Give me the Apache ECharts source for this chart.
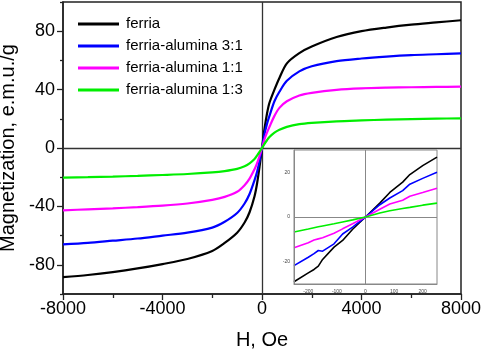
<!DOCTYPE html>
<html>
<head>
<meta charset="utf-8">
<script src="https://cdn.jsdelivr.net/npm/echarts@6/dist/echarts.min.js"></script>
<style>
  html, body { margin: 0; padding: 0; background: #fff; }
  #chart { width: 482px; height: 353px; }
</style>
</head>
<body>
<div id="chart"></div>
<script>
// main loop, field H in Oe
const H = [-8000, -7000, -6000, -5000, -4000, -3000, -2000, -1500, -1000, -700, -500, -300, -200, -100,
  0, 100, 200, 300, 500, 700, 1000, 1500, 2000, 3000, 4000, 5000, 6000, 7000, 8000];
const ferria = [-88.5, -87, -85, -82.5, -79.5, -76, -70.5, -65, -58, -51, -44, -33, -24.5, -13,
  0, 13, 23.5, 31, 40, 48, 58, 65, 69.5, 76, 80, 82.5, 84.5, 86, 87.5];
const fa31 = [-66, -65, -63.5, -62, -60, -58, -54.5, -50.5, -44.5, -38, -31.5, -22, -16.5, -9,
  0, 9.5, 16.5, 22, 32, 38.5, 46, 52.5, 56, 59.5, 61.3, 62.6, 63.6, 64.2, 64.8];
const fa11 = [-42.7, -42, -41.3, -40.5, -39.5, -38, -35.5, -33.5, -30, -25.5, -21, -14.5, -10.5, -5.5,
  0, 6, 10.5, 14.5, 22, 27.5, 32, 36, 37.8, 39.8, 40.8, 41.3, 41.6, 41.8, 42];
const fa13 = [-20.3, -20, -19.6, -19.1, -18.5, -17.8, -16.7, -15.8, -14.3, -12.5, -10.5, -7.5, -5.2, -2.7,
  0, 2.8, 5.3, 7.5, 10.5, 12.5, 14.5, 16.3, 17.2, 18.3, 18.9, 19.4, 19.8, 20.1, 20.3];

// inset, low field
const insetH = [-250, -200, -180, -165, -150, -110, -80, -45, 0, 50, 85, 130, 155, 200, 250];
const insetFerria = [-29, -25, -23.5, -22, -19, -13.5, -10.5, -5.5, 0, 6.2, 11, 15.6, 19, 23, 26.8];
const insetFa31 = [-21.8, -18, -16.4, -15, -15.3, -12, -7.6, -4.5, 0, 5.5, 8.5, 11.8, 14.7, 17.3, 20];
const insetFa11 = [-13.8, -11.5, -10.3, -9.8, -9.3, -7.3, -5.3, -3, 0, 3.5, 5.8, 7.5, 9.3, 11, 12.9];
const insetFa13 = [-6.7, -5.4, -4.8, -4.4, -4, -3, -2.2, -1.3, 0, 1.8, 2.8, 3.8, 4.3, 5.3, 6.2];

const names = ['ferria', 'ferria-alumina 3:1', 'ferria-alumina 1:1', 'ferria-alumina 1:3'];
const colors = ['#000000', '#0000ff', '#ff00ff', '#00ee00'];
const yLabels = [-80, -40, 0, 40, 80];
const yMinor = [-100, -60, -20, 20, 60, 100];
const insetXLabels = [-200, -100, 0, 100, 200];
const insetYLabels = [-20, 0, 20];

const zip = (xs, ys) => xs.map((x, i) => [x, ys[i]]);
const mainData = [ferria, fa31, fa11, fa13];
const insetData = [insetFerria, insetFa31, insetFa11, insetFa13];

const font = 'Arial, "Liberation Sans", sans-serif';
const chart = echarts.init(document.getElementById('chart'), null, { renderer: 'canvas' });

const series = [];
mainData.forEach((d, i) => {
  series.push({
    name: names[i],
    type: 'line',
    xAxisIndex: 0,
    yAxisIndex: 0,
    data: zip(H, d),
    smooth: 0.3,
    symbol: 'none',
    lineStyle: { width: 2.2, color: colors[i] },
    itemStyle: { color: colors[i] },
    z: 3,
    markLine: i === 0 ? {
      silent: true,
      symbol: 'none',
      label: { show: false },
      lineStyle: { color: '#333', width: 1.3, type: 'solid' },
      data: [{ xAxis: 0 }, { yAxis: 0 }],
      z: 1
    } : undefined
  });
});
insetData.forEach((d, i) => {
  series.push({
    name: names[i],
    type: 'line',
    xAxisIndex: 1,
    yAxisIndex: 2,
    data: zip(insetH, d),
    symbol: 'none',
    lineStyle: { width: 1.6, color: colors[i] },
    itemStyle: { color: colors[i] },
    z: 5,
    markLine: i === 0 ? {
      silent: true,
      symbol: 'none',
      label: { show: false },
      lineStyle: { color: '#888', width: 1, type: 'solid' },
      data: [{ xAxis: 0 }, { yAxis: 0 }]
    } : undefined
  });
});

chart.setOption({
  animation: false,
  backgroundColor: '#fff',
  textStyle: { fontFamily: font },
  legend: {
    data: names.map((n, i) => ({ name: n, icon: 'rect', itemStyle: { color: colors[i] } })),
    orient: 'vertical',
    left: 73,
    top: 11,
    itemWidth: 41,
    itemHeight: 3,
    itemGap: 6,
    textStyle: { fontSize: 15, color: '#000', fontFamily: font, padding: [0, 0, 0, 2], lineHeight: 16 }
  },
  grid: [
    { left: 63, right: 21, top: 2, bottom: 59, outerBoundsMode: 'none', show: true, borderColor: '#222', borderWidth: 1.5, backgroundColor: 'transparent' },
    { left: 294, right: 45, top: 150, bottom: 69, outerBoundsMode: 'none', show: true, borderColor: '#888', borderWidth: 1, backgroundColor: '#fff', z: 4 }
  ],
  xAxis: [
    {
      type: 'value', gridIndex: 0, min: -8000, max: 8000, interval: 4000,
      name: 'H, Oe', nameLocation: 'middle', nameGap: 36,
      nameTextStyle: { fontSize: 20, color: '#000', fontFamily: font },
      axisLine: { onZero: false, lineStyle: { color: '#222', width: 1.5 } },
      axisTick: { length: 6, lineStyle: { color: '#222', width: 1.3 } },
      minorTick: { show: true, splitNumber: 2, length: 4, lineStyle: { color: '#222', width: 1.3 } },
      axisLabel: { fontSize: 18, color: '#000', margin: 6, fontFamily: font, formatter: (v) => String(v) },
      splitLine: { show: false }
    },
    {
      type: 'value', gridIndex: 1, min: -250, max: 250, z: 6,
      axisLine: { onZero: false, lineStyle: { color: '#888', width: 1 } },
      axisTick: { show: false },
      axisLabel: { customValues: insetXLabels, fontSize: 5, color: '#444', margin: 5, fontFamily: font, formatter: (v) => String(v) },
      splitLine: { show: false }
    }
  ],
  yAxis: [
    {
      type: 'value', gridIndex: 0, min: -100, max: 100, position: 'left',
      name: 'Magnetization, e.m.u./g', nameLocation: 'middle', nameGap: 39,
      nameTextStyle: { fontSize: 20, color: '#000', fontFamily: font },
      axisLine: { onZero: false, lineStyle: { color: '#222', width: 1.5 } },
      axisTick: { customValues: yLabels, length: 6, lineStyle: { color: '#222', width: 1.3 } },
      axisLabel: { customValues: yLabels, fontSize: 18, color: '#000', margin: 8, fontFamily: font },
      splitLine: { show: false }
    },
    {
      type: 'value', gridIndex: 0, min: -100, max: 100, position: 'left', offset: 0,
      axisLine: { show: false, onZero: false },
      axisTick: { customValues: yMinor, length: 3, lineStyle: { color: '#222', width: 1.3 } },
      axisLabel: { show: false },
      splitLine: { show: false }
    },
    {
      type: 'value', gridIndex: 1, min: -30, max: 30, z: 6,
      axisLine: { onZero: false, lineStyle: { color: '#888', width: 1 } },
      axisTick: { show: false },
      axisLabel: { customValues: insetYLabels, fontSize: 5, color: '#444', margin: 4, fontFamily: font },
      splitLine: { show: false }
    }
  ],
  series: series
});
</script>
</body>
</html>
